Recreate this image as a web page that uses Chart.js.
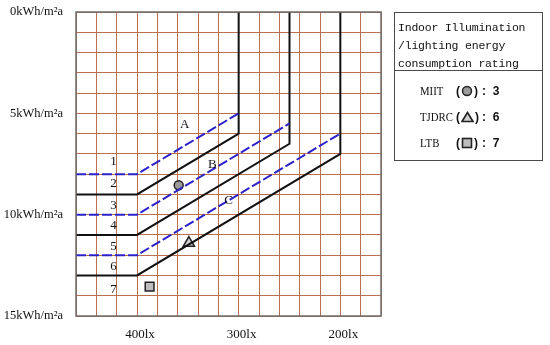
<!DOCTYPE html>
<html>
<head>
<meta charset="utf-8">
<script src="https://cdn.jsdelivr.net/npm/chart.js@4"></script>
<style>
  body { margin: 0; background: #fff; }
  #wrap { position: relative; width: 550px; height: 345px; }
  #rating {
    position: absolute; left: 394px; top: 12px; width: 147px; height: 147px;
    border: 1.5px solid #4a4a4a; font-family: "Liberation Mono", monospace; color: #111;
  }
  #rating .head {
    font-size: 11.5px; line-height: 18px; padding: 6px 0 2px 3px;
    border-bottom: 1.5px solid #4a4a4a; height: 49px; letter-spacing: -0.2px;
  }
  #rating .row { position: absolute; left: 0; height: 20px; line-height: 20px; font-size: 12px; }
  #rating .name { position: absolute; left: 25px; font-family: "Liberation Serif", serif; font-size: 13.5px; transform: scaleX(0.8); transform-origin: left center; }
  #rating .mark { position: absolute; left: 61px; font-family: "Liberation Sans", sans-serif; font-weight: bold; font-size: 12px; white-space: nowrap; }
  #rating .val { position: absolute; left: 87px; font-family: "Liberation Sans", sans-serif; font-weight: bold; font-size: 12px; white-space: nowrap; }
  #rating svg { vertical-align: -2px; margin: 0 1px; }
</style>
</head>
<body>
<div id="wrap">
  <canvas id="rating-chart"></canvas>
  <div id="rating">
    <div class="head">Indoor Illumination<br>/lighting energy<br>consumption rating</div>
    <div class="row" style="top:68px"><span class="name">MIIT</span><span class="mark">(<svg width="12" height="12"><circle cx="6" cy="6" r="4.5" fill="#9a9a9a" stroke="#222" stroke-width="1.5"/></svg>)</span><span class="val">:&nbsp; 3</span></div>
    <div class="row" style="top:94px"><span class="name">TJDRC</span><span class="mark">(<svg width="13" height="12"><polygon points="6.5,1.5 12,10.5 1,10.5" fill="#d0d0d0" stroke="#222" stroke-width="1.6"/></svg>)</span><span class="val">:&nbsp; 6</span></div>
    <div class="row" style="top:120px"><span class="name">LTB</span><span class="mark">(<svg width="12" height="12"><rect x="1.5" y="1.5" width="9" height="9" fill="#bdbdbd" stroke="#222" stroke-width="1.6"/></svg>)</span><span class="val">:&nbsp; 7</span></div>
  </div>
</div>
<script>
// axis ticks (grid units: 15 columns x 15 rows)
const xTickValues = [3, 8, 13];
const xTickLabels = ['400lx', '300lx', '200lx'];
const yTickValues = [0, 5, 10, 15];
const yTickLabels = ['0kWh/m²a', '5kWh/m²a', '10kWh/m²a', '15kWh/m²a'];

// boundary lines between rating levels
const line1X = [0, 3, 8];         const line1Y = [8, 8, 5];
const line2X = [0, 3, 8, 8];      const line2Y = [9, 9, 6, 0];
const line3X = [0, 3, 10.5];      const line3Y = [10, 10, 5.5];
const line4X = [0, 3, 10.5, 10.5];const line4Y = [11, 11, 6.5, 0];
const line5X = [0, 3, 13];        const line5Y = [12, 12, 6];
const line6X = [0, 3, 13, 13];    const line6Y = [13, 13, 7, 0];

// level numbers and zone letters
const levelLabels = ['1', '2', '3', '4', '5', '6', '7'];
const levelX = [1.85, 1.85, 1.85, 1.85, 1.85, 1.85, 1.85];
const levelY = [7.4, 8.45, 9.55, 10.55, 11.55, 12.55, 13.7];
const zoneLabels = ['A', 'B', 'C'];
const zoneX = [5.35, 6.7, 7.5];
const zoneY = [5.55, 7.55, 9.3];

// buildings
const miitPoint = [5.05, 8.55];
const tjdrcPoint = [5.55, 11.4];
const ltbPoint = [3.62, 13.55];

function pts(xs, ys) {
  return xs.map((x, i) => ({ x: x, y: ys[i] }));
}

const blue = '#2b22cc';
const black = '#111';
const gridColor = '#b9704e';

function lineSet(xs, ys, dashed) {
  return {
    data: pts(xs, ys),
    showLine: true,
    borderColor: dashed ? blue : black,
    borderWidth: 2,
    borderDash: dashed ? [10, 3] : [],
    pointRadius: 0,
    fill: false
  };
}

function markerSet(p, style, radius, fill) {
  return {
    data: [{ x: p[0], y: p[1] }],
    pointStyle: style,
    pointRadius: radius,
    pointBackgroundColor: fill,
    pointBorderColor: '#222',
    pointBorderWidth: 1.5
  };
}

const textLabels = {
  id: 'textLabels',
  afterDatasetsDraw(chart) {
    const ctx = chart.ctx;
    const xs = chart.scales.x, ys = chart.scales.y;
    ctx.save();
    ctx.fillStyle = '#111';
    ctx.font = '13px "Liberation Serif"';
    ctx.textAlign = 'center';
    ctx.textBaseline = 'middle';
    levelLabels.forEach((t, i) => ctx.fillText(t, xs.getPixelForValue(levelX[i]), ys.getPixelForValue(levelY[i])));
    zoneLabels.forEach((t, i) => ctx.fillText(t, xs.getPixelForValue(zoneX[i]), ys.getPixelForValue(zoneY[i])));
    // outer frame
    const a = chart.chartArea;
    ctx.strokeStyle = '#6e6e6e';
    ctx.lineWidth = 1.5;
    ctx.strokeRect(a.left, a.top, a.right - a.left, a.bottom - a.top);
    ctx.restore();
  }
};

const ctx = document.getElementById('rating-chart');
new Chart(ctx, {
  type: 'scatter',
  data: {
    datasets: [
      lineSet(line1X, line1Y, true),
      lineSet(line2X, line2Y, false),
      lineSet(line3X, line3Y, true),
      lineSet(line4X, line4Y, false),
      lineSet(line5X, line5Y, true),
      lineSet(line6X, line6Y, false),
      markerSet(miitPoint, 'circle', 4.5, '#9a9a9a'),
      markerSet(tjdrcPoint, 'triangle', 6.5, '#d0d0d0'),
      markerSet(ltbPoint, 'rect', 6.2, '#bdbdbd')
    ]
  },
  options: {
    responsive: true,
    maintainAspectRatio: false,
    animation: false,
    layout: { padding: { top: 12, right: 169, left: 0, bottom: 0 } },
    plugins: {
      legend: { display: false },
      tooltip: { enabled: false }
    },
    scales: {
      x: {
        type: 'linear',
        min: 0,
        max: 15,
        afterFit(scale) { scale.height = 29; },
        grid: { color: gridColor, lineWidth: 1, drawTicks: false },
        border: { display: false },
        ticks: {
          stepSize: 1,
          autoSkip: false,
          maxRotation: 0,
          padding: 11,
          labelOffset: 3,
          color: '#111',
          font: { family: 'Liberation Serif', size: 13 },
          callback: function(v) {
            const i = xTickValues.indexOf(v);
            return i >= 0 ? xTickLabels[i] : '';
          }
        }
      },
      y: {
        type: 'linear',
        reverse: true,
        min: 0,
        max: 15,
        afterFit(scale) {
          scale.width = 76;
          scale.paddingTop = 0;
          scale.paddingBottom = 0;
        },
        grid: { color: gridColor, lineWidth: 1, drawTicks: false },
        border: { display: false },
        ticks: {
          stepSize: 1,
          autoSkip: false,
          padding: 13,
          color: '#111',
          font: { family: 'Liberation Serif', size: 12.5 },
          callback: function(v) {
            const i = yTickValues.indexOf(v);
            return i >= 0 ? yTickLabels[i] : '';
          }
        }
      }
    }
  },
  plugins: [textLabels]
});
</script>
</body>
</html>
